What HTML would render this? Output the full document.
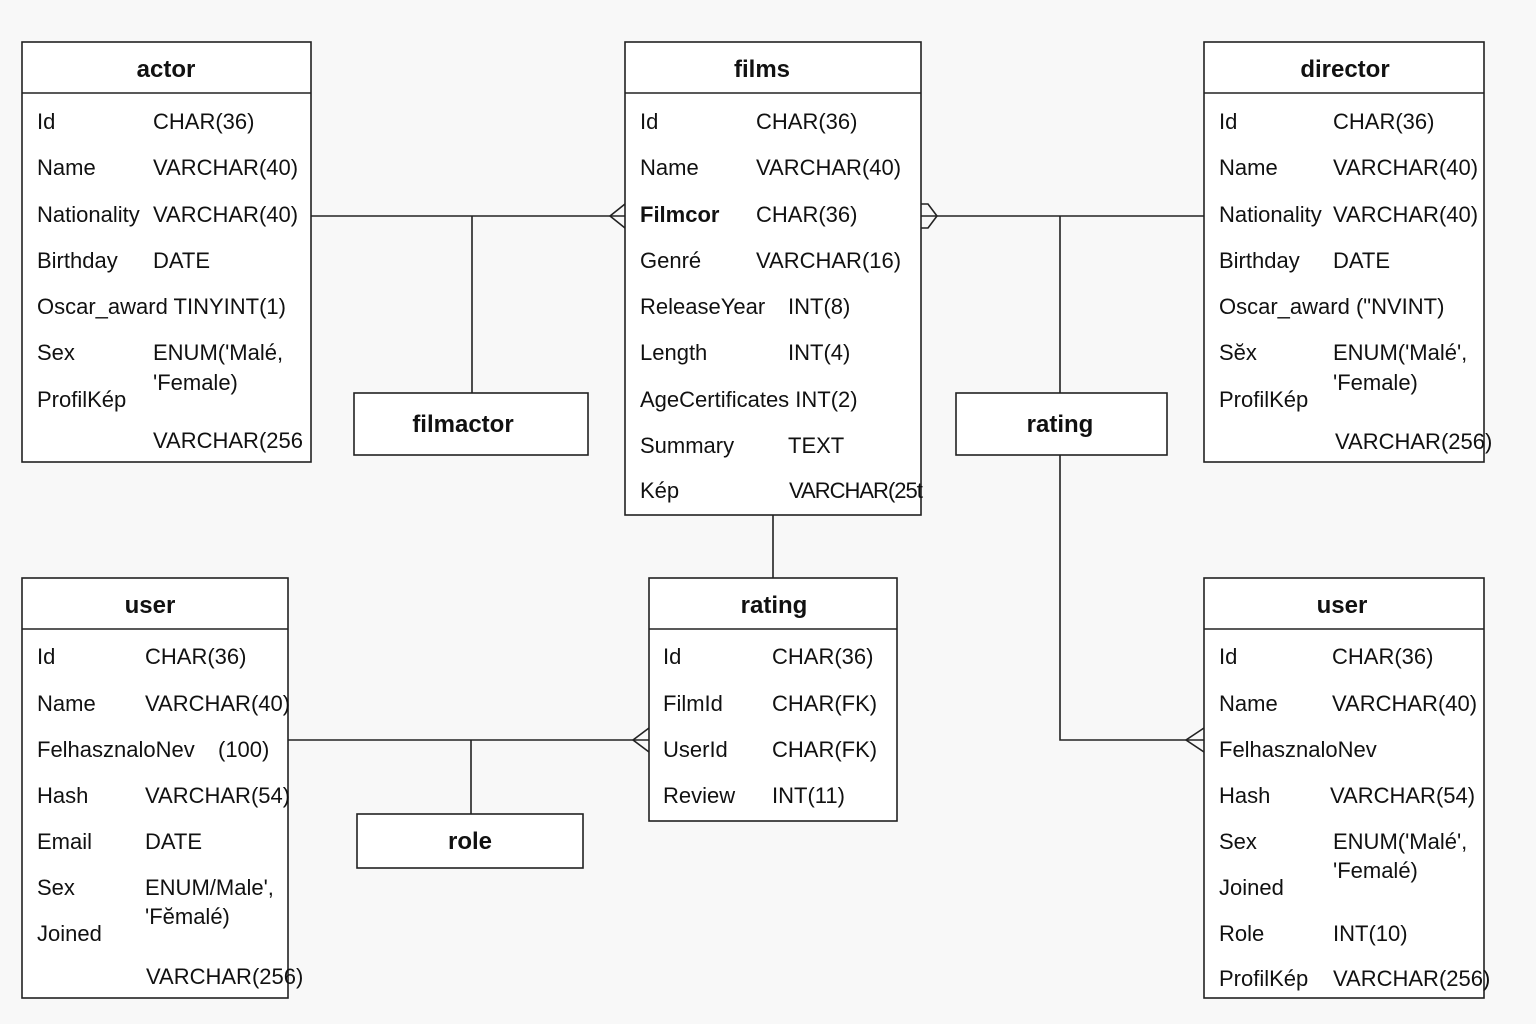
<!DOCTYPE html>
<html><head><meta charset="utf-8"><style>
html,body{margin:0;padding:0;background:#f8f8f8;}
svg{display:block;}
text{font-family:"Liberation Sans",Arial,sans-serif;font-size:22px;fill:#111;}
.h{font-weight:bold;font-size:24px;}
</style></head><body>
<svg width="1536" height="1024" viewBox="0 0 1536 1024" xmlns="http://www.w3.org/2000/svg">
<rect width="1536" height="1024" fill="#f8f8f8"/>
<g fill="#fff" stroke="#222" stroke-width="1.6">
<rect x="22" y="42" width="289" height="420"/><line x1="22" y1="93" x2="311" y2="93"/>
<rect x="625" y="42" width="296" height="473"/><line x1="625" y1="93" x2="921" y2="93"/>
<rect x="1204" y="42" width="280" height="420"/><line x1="1204" y1="93" x2="1484" y2="93"/>
<rect x="354" y="393" width="234" height="62"/>
<rect x="956" y="393" width="211" height="62"/>
<rect x="22" y="578" width="266" height="420"/><line x1="22" y1="629" x2="288" y2="629"/>
<rect x="649" y="578" width="248" height="243"/><line x1="649" y1="629" x2="897" y2="629"/>
<rect x="1204" y="578" width="280" height="420"/><line x1="1204" y1="629" x2="1484" y2="629"/>
<rect x="357" y="814" width="226" height="54"/>
</g>
<g fill="none" stroke="#222" stroke-width="1.6">
<line x1="311" y1="216" x2="625" y2="216"/><line x1="472" y1="216" x2="472" y2="393"/>
<path d="M625 204 L610 216 L625 228"/>
<line x1="921" y1="216" x2="1204" y2="216"/><line x1="1060" y1="216" x2="1060" y2="393"/>
<path d="M921 204 L928 204 L937 216 L928 228 L921 228"/>
<path d="M1060 455 L1060 740 L1204 740"/><path d="M1204 728 L1186 740 L1204 752"/>
<line x1="773" y1="515" x2="773" y2="578"/>
<line x1="288" y1="740" x2="649" y2="740"/><line x1="471" y1="740" x2="471" y2="814"/>
<path d="M649 728 L633 740 L649 752"/>
</g>
<text class="h" x="166" y="77" text-anchor="middle">actor</text>
<text x="37" y="129">Id</text><text x="153" y="129">CHAR(36)</text>
<text x="37" y="175">Name</text><text x="153" y="175">VARCHAR(40)</text>
<text x="37" y="222">Nationality</text><text x="153" y="222">VARCHAR(40)</text>
<text x="37" y="268">Birthday</text><text x="153" y="268">DATE</text>
<text x="37" y="314">Oscar_award TINYINT(1)</text>
<text x="37" y="360">Sex</text><text x="153" y="360">ENUM('Malé,</text>
<text x="153" y="390">'Female)</text>
<text x="37" y="407">ProfilKép</text>
<text x="153" y="448">VARCHAR(256</text>

<text class="h" x="762" y="77" text-anchor="middle">films</text>
<text x="640" y="129">Id</text><text x="756" y="129">CHAR(36)</text>
<text x="640" y="175">Name</text><text x="756" y="175">VARCHAR(40)</text>
<text x="640" y="222" font-weight="bold" font-size="23">Filmcor</text><text x="756" y="222">CHAR(36)</text>
<text x="640" y="268">Genré</text><text x="756" y="268">VARCHAR(16)</text>
<text x="640" y="314">ReleaseYear</text><text x="788" y="314">INT(8)</text>
<text x="640" y="360">Length</text><text x="788" y="360">INT(4)</text>
<text x="640" y="407">AgeCertificates INT(2)</text>
<text x="640" y="453">Summary</text><text x="788" y="453">TEXT</text>
<text x="640" y="498">Kép</text><text x="789" y="498" font-size="20" letter-spacing="-1">VARCHAR(25t</text>

<text class="h" x="1345" y="77" text-anchor="middle">director</text>
<text x="1219" y="129">Id</text><text x="1333" y="129">CHAR(36)</text>
<text x="1219" y="175">Name</text><text x="1333" y="175">VARCHAR(40)</text>
<text x="1219" y="222">Nationality</text><text x="1333" y="222">VARCHAR(40)</text>
<text x="1219" y="268">Birthday</text><text x="1333" y="268">DATE</text>
<text x="1219" y="314">Oscar_award ("NVINT)</text>
<text x="1219" y="360">Sĕx</text><text x="1333" y="360">ENUM('Malé',</text>
<text x="1333" y="390">'Female)</text>
<text x="1219" y="407">ProfilKép</text>
<text x="1335" y="449">VARCHAR(256)</text>

<text class="h" x="463" y="432" text-anchor="middle">filmactor</text>
<text class="h" x="1060" y="432" text-anchor="middle">rating</text>
<text class="h" x="470" y="849" text-anchor="middle">role</text>

<text class="h" x="150" y="613" text-anchor="middle">user</text>
<text x="37" y="664">Id</text><text x="145" y="664">CHAR(36)</text>
<text x="37" y="711">Name</text><text x="145" y="711">VARCHAR(40)</text>
<text x="37" y="757">FelhasznaloNev</text><text x="218" y="757">(100)</text>
<text x="37" y="803">Hash</text><text x="145" y="803">VARCHAR(54)</text>
<text x="37" y="849">Email</text><text x="145" y="849">DATE</text>
<text x="37" y="895">Sex</text><text x="145" y="895">ENUM/Male',</text>
<text x="145" y="924">'Fĕmalé)</text>
<text x="37" y="941">Joined</text>
<text x="146" y="984">VARCHAR(256)</text>

<text class="h" x="774" y="613" text-anchor="middle">rating</text>
<text x="663" y="664">Id</text><text x="772" y="664">CHAR(36)</text>
<text x="663" y="711">FilmId</text><text x="772" y="711">CHAR(FK)</text>
<text x="663" y="757">UserId</text><text x="772" y="757">CHAR(FK)</text>
<text x="663" y="803">Review</text><text x="772" y="803">INT(11)</text>

<text class="h" x="1342" y="613" text-anchor="middle">user</text>
<text x="1219" y="664">Id</text><text x="1332" y="664">CHAR(36)</text>
<text x="1219" y="711">Name</text><text x="1332" y="711">VARCHAR(40)</text>
<text x="1219" y="757">FelhasznaloNev</text>
<text x="1219" y="803">Hash</text><text x="1330" y="803">VARCHAR(54)</text>
<text x="1219" y="849">Sex</text><text x="1333" y="849">ENUM('Malé',</text>
<text x="1333" y="878">'Femalé)</text>
<text x="1219" y="895">Joined</text>
<text x="1219" y="941">Role</text><text x="1333" y="941">INT(10)</text>
<text x="1219" y="986">ProfilKép</text><text x="1333" y="986">VARCHAR(256)</text>
</svg>
</body></html>
